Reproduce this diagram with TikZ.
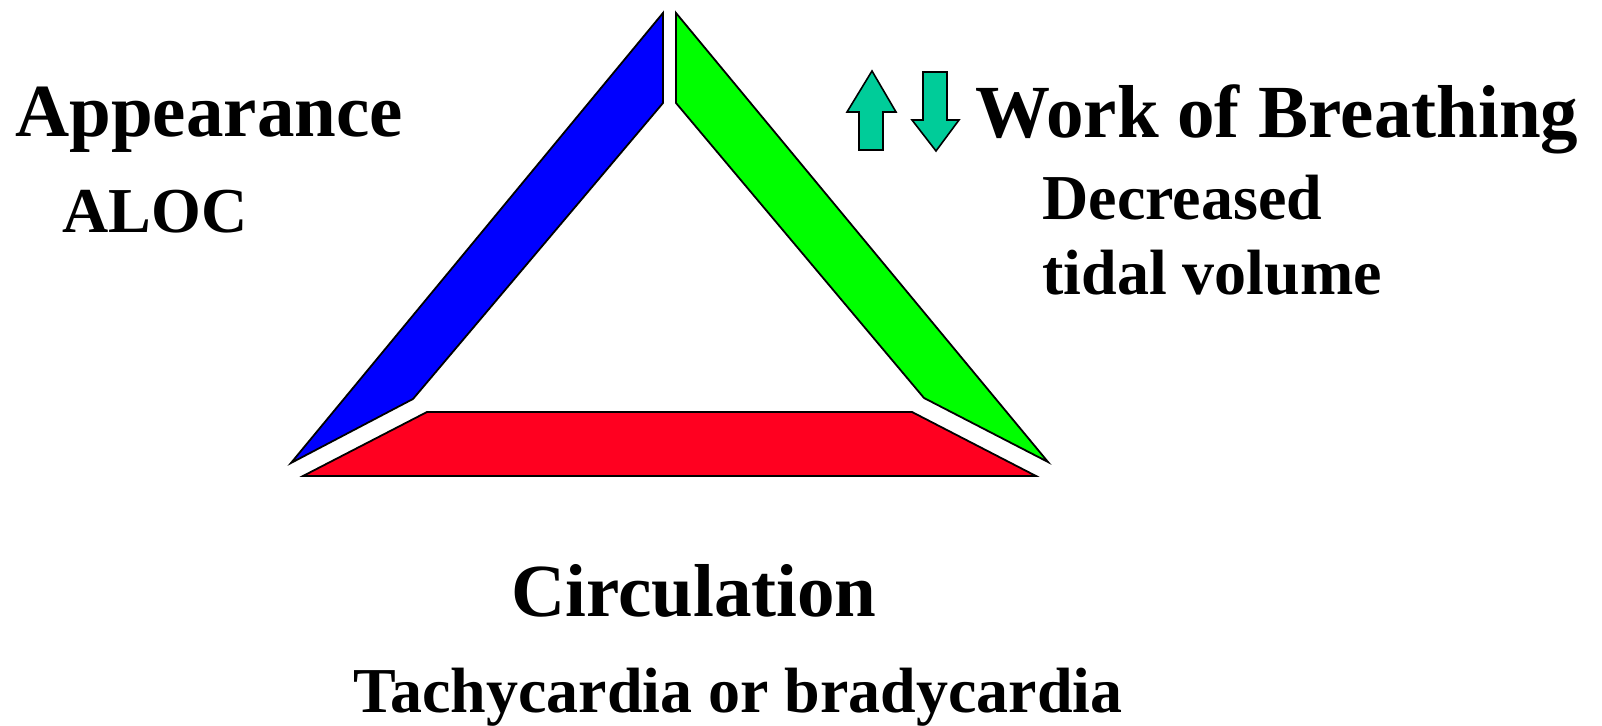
\documentclass[tikz,border=0pt]{standalone}
\usepackage{fontspec}
\setmainfont{Liberation Serif}
\usepackage{tikz}

\tikzset{
  side/.style={draw=black,line width=0.9pt,line join=miter},
  bigtext/.style={anchor=base west,inner sep=0pt,font=\fontsize{37.5}{40}\selectfont\bfseries},
  smalltext/.style={anchor=base west,inner sep=0pt,font=\fontsize{32}{34}\selectfont\bfseries},
  trend/.style={draw=black,line width=0.8pt,fill=trendgreen}
}
\definecolor{trendgreen}{RGB}{0,204,153}

\begin{document}
\begin{tikzpicture}[x=0.5pt,y=0.5pt]
  \useasboundingbox (0,0) rectangle (1602,726);
  \filldraw[side,fill={rgb,255:red,0;green,0;blue,255}] (663,713) -- (663,623) -- (413,327) -- (291,263) -- cycle;
  \filldraw[side,fill={rgb,255:red,0;green,255;blue,0}] (676,713) -- (676,623) -- (924,328) -- (1048,264) -- cycle;
  \filldraw[side,fill={rgb,255:red,255;green,0;blue,32}] (427,314) -- (912,314) -- (1036,250) -- (303,250) -- cycle;
  \filldraw[trend] (872,655) -- (896,614) -- (883,614) -- (883,576) -- (859,576) -- (859,614) -- (847,614) -- cycle;
  \filldraw[trend] (936,575) -- (959,606) -- (947,606) -- (947,654) -- (923,654) -- (923,606) -- (912,606) -- cycle;
  \node[bigtext] (appearance) at (15,589) {Appearance};
  \node[smalltext] (aloc) at (62,493) {ALOC};
  \node[bigtext] (breathing) at (975,588) {Work of Breathing};
  \node[smalltext] (decreased) at (1042,506) {Decreased};
  \node[smalltext] (tidal) at (1042,431) {tidal volume};
  \node[bigtext,anchor=base] (circulation) at (694,109) {Circulation};
  \node[smalltext,anchor=base] (rate) at (738,13) {Tachycardia or bradycardia};
\end{tikzpicture}
\end{document}
